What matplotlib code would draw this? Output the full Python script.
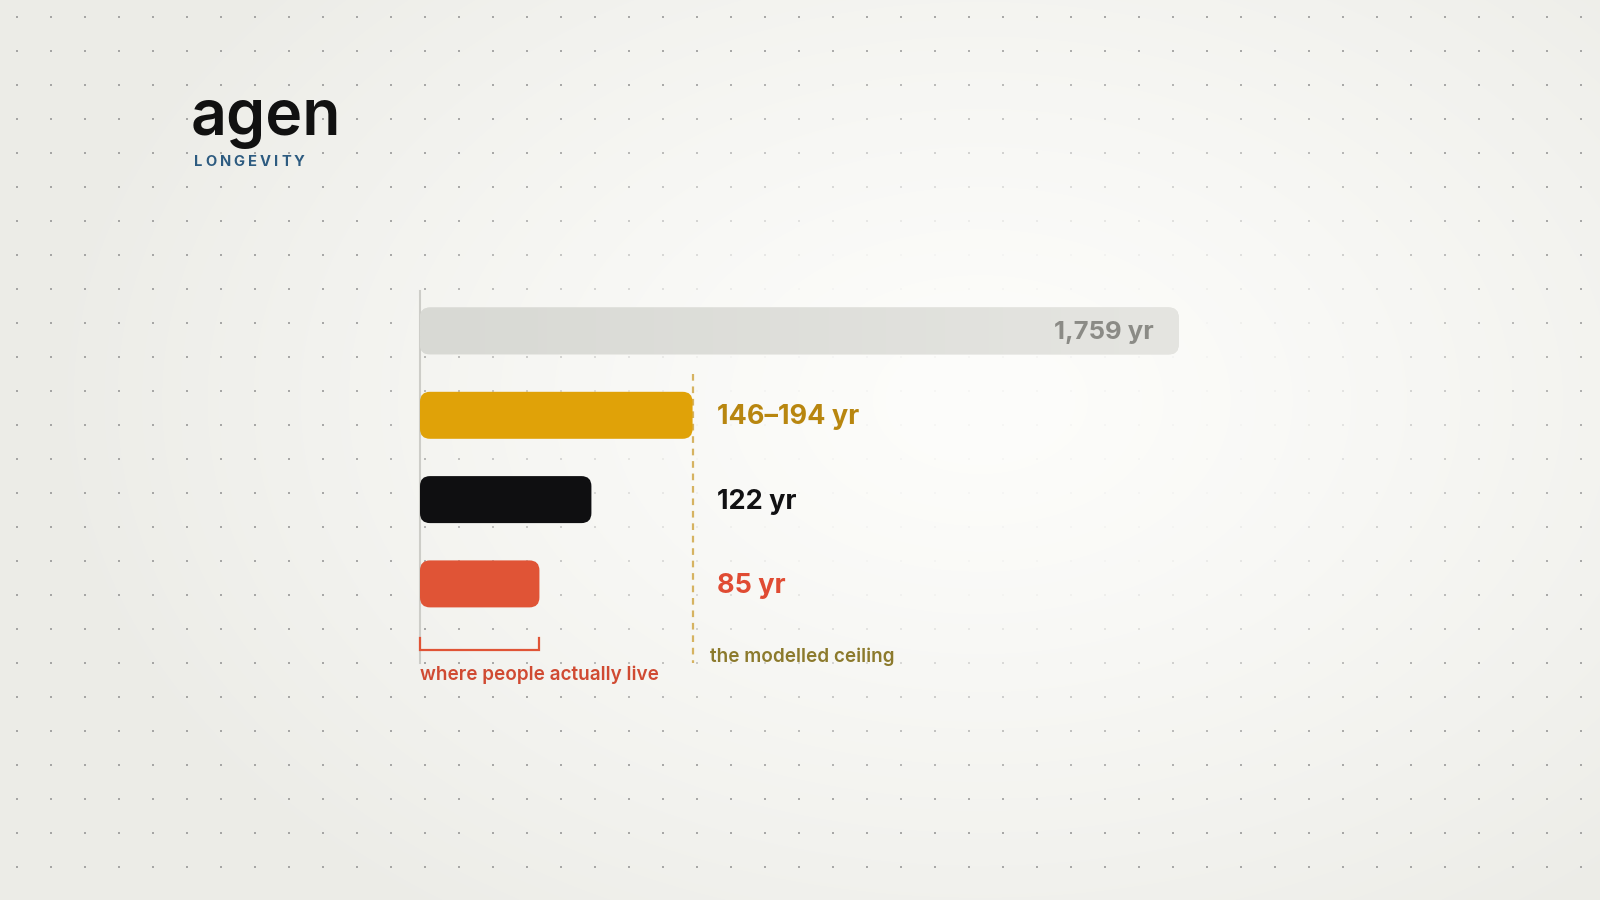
# Longevity ceiling chart: horizontal rounded bars on a dotted, softly lit canvas.
import numpy as np
import matplotlib.pyplot as plt
from matplotlib.patches import FancyBboxPatch

# ====== Data ======
bar_names = ["modelled maximum", "modelled ceiling", "oldest recorded", "life expectancy"]
bar_values = [1759, 194, 122, 85]
value_labels = ["1,759 yr", "146–194 yr", "122 yr", "85 yr"]
ceiling_range = [146, 194]
lived_span = 85
display_cap = 540  # the 1,759 yr bar is off-scale, drawn truncated

bar_colors = ["#dcdcd7", "#e0a208", "#0f0f11", "#e05436"]
label_colors = ["#8b8b86", "#b8860f", "#111113", "#e04b33"]

FONT = "Inter"
W, H = 1600, 900
fig = plt.figure(figsize=(16, 9), dpi=100)

# ====== Background: radial glow + dot grid ======
bg = fig.add_axes([0, 0, 1, 1])
bg.set_xlim(0, W)
bg.set_ylim(H, 0)
bg.axis("off")
yy, xx = np.mgrid[0:H, 0:W]
dist = np.sqrt(((xx - 980) / 950) ** 2 + ((yy - 400) / 650) ** 2)
mix = np.clip(dist, 0, 1) ** 1.3
inner = np.array([253, 253, 251]) / 255
outer = np.array([236, 236, 231]) / 255
img = inner[None, None, :] * (1 - mix[..., None]) + outer[None, None, :] * mix[..., None]
bg.imshow(img, extent=(0, W, H, 0), aspect="auto", zorder=0)

gx, gy = np.meshgrid(np.arange(17, W, 34), np.arange(17, H, 34))
gd = np.sqrt(((gx - 980) / 760) ** 2 + ((gy - 420) / 460) ** 2)
dot_alpha = np.clip((gd - 0.35) / 0.55, 0.06, 0.9)
dot_rgba = np.zeros((gx.size, 4))
dot_rgba[:, :3] = 0.56
dot_rgba[:, 3] = dot_alpha.ravel()
bg.scatter(gx.ravel(), gy.ravel(), s=2.2, c=dot_rgba, linewidths=0, zorder=1)

# ====== Logo ======
fig.text(191 / W, 1 - 135 / H, "agen", fontsize=45, family=FONT, weight="semibold",
         color="#111111", va="baseline", ha="left")
renderer = fig.canvas.get_renderer()
lx = 194
for ch in "LONGEVITY":
    t = fig.text(lx / W, 1 - 166 / H, ch, fontsize=10.6, family=FONT, weight="bold",
                 color="#2d5b80", va="baseline", ha="left")
    lx += t.get_window_extent(renderer).width + 3.0

# ====== Chart axes ======
px_per_yr = 1.405
row_px = 84.3
x_max = 800
y_top, y_bot = -0.5, 4.2
ax = fig.add_axes([420 / W, 1 - (331 + y_bot * row_px) / H,
                   x_max * px_per_yr / W, (y_bot - y_top) * row_px / H])
ax.patch.set_alpha(0)
ax.axis("off")

bar_h = 47 / row_px
rad = 10 / px_per_yr
aspect = px_per_yr / row_px

for i, (v, col) in enumerate(zip(bar_values, bar_colors)):
    length = min(v, display_cap)
    patch = FancyBboxPatch((0, i - bar_h / 2), length, bar_h,
                           boxstyle=f"round,pad=0,rounding_size={rad}",
                           mutation_aspect=aspect, facecolor=col, edgecolor="none", zorder=3)
    ax.add_patch(patch)
    if v > display_cap:
        grad = np.linspace(0, 1, 256)[None, :, None]
        c0 = np.array([216, 217, 212]) / 255
        c1 = np.array([229, 229, 225]) / 255
        gimg = c0 * (1 - grad) + c1 * grad
        im = ax.imshow(gimg, extent=(0, length, i + bar_h / 2, i - bar_h / 2),
                       aspect="auto", zorder=3.5)
        im.set_clip_path(patch)

# value labels
ax.annotate(value_labels[0], (display_cap, 0), xytext=(-25 * 0.72, -2 * 0.72),
            textcoords="offset points", ha="right", va="center",
            fontsize=18.5, family=FONT, weight="bold", color=label_colors[0], zorder=5)
for i in range(1, len(bar_values)):
    ax.annotate(value_labels[i], (ceiling_range[1], i), xytext=(24 * 0.72, -2 * 0.72),
                textcoords="offset points", ha="left", va="center",
                fontsize=19.5, family=FONT, weight="bold", color=label_colors[i], zorder=5)

# baseline axis and ceiling marker
ax.plot([0, 0], [-0.476, 3.94], color="#cdcdc8", lw=1.5, zorder=2, clip_on=False)
ax.plot([ceiling_range[1]] * 2, [0.51, 3.94], color="#d6b361", lw=1.6,
        ls=(0, (3.0, 2.6)), zorder=2, clip_on=False)

# bracket under the real-life bar
ax.plot([0, 0, lived_span, lived_span], [3.64, 3.785, 3.785, 3.64],
        color="#e05436", lw=1.6, solid_joinstyle="miter", zorder=4, clip_on=False)
ax.text(0, 4.08, "where people actually live", ha="left", va="center",
        fontsize=13.6, family=FONT, weight="semibold", color="#d04a32")
ax.annotate("the modelled ceiling", (ceiling_range[1], 3.86), xytext=(17 * 0.72, 0),
            textcoords="offset points", ha="left", va="center",
            fontsize=13.6, family=FONT, weight="semibold", color="#8c7a2c")

ax.set_xlim(0, x_max)
ax.set_ylim(y_bot, y_top)

fig.savefig("out.png", dpi=100)
